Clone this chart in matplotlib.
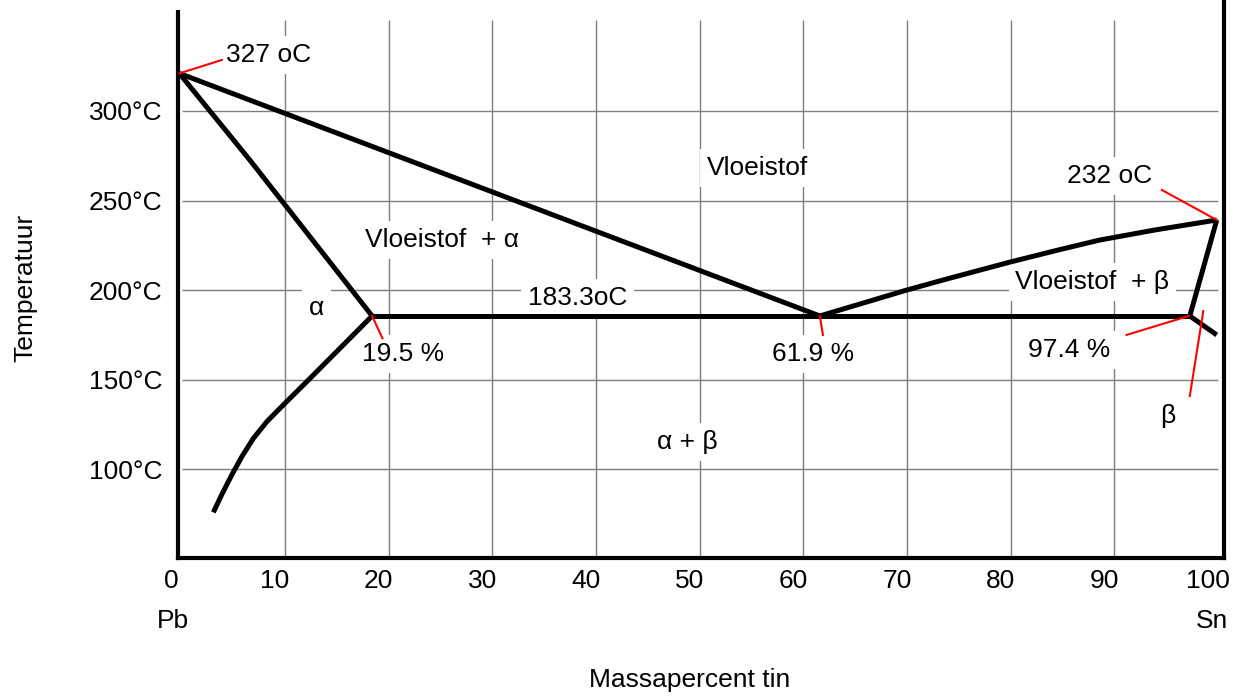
import matplotlib
matplotlib.use('Agg')
import matplotlib.pyplot as plt
import matplotlib.transforms as mtransforms

plt.rcParams['font.family'] = ['Liberation Sans', 'DejaVu Sans']

# --- gegevens (massapercent tin, temperatuur in °C) ---
x_ticks = [0, 10, 20, 30, 40, 50, 60, 70, 80, 90, 100]
y_ticks = [100, 150, 200, 250, 300]
y_labels = ['100°C', '150°C', '200°C', '250°C', '300°C']

# liquidus Pb-kant
liq_a_x = [-0.2, 61.6]
liq_a_t = [321.0, 185.5]
# solidus Pb-kant
sol_a_x = [-0.2, 6.6, 18.4]
sol_a_t = [321.0, 272.6, 185.5]
# solvus alpha
solv_a_x = [18.4, 12.25, 9.83, 8.23, 6.94, 5.82, 4.85, 3.95, 3.08]
solv_a_t = [185.5, 149.7, 135.8, 126.4, 117.1, 106.8, 96.6, 86.4, 75.8]
# eutectische lijn
eut_x = [18.4, 97.3]
eut_t = [185.5, 185.5]
# liquidus Sn-kant
liq_b_x = [61.6, 70.0, 74.2, 79.95, 84.5, 88.6, 94.0, 99.9]
liq_b_t = [185.5, 200.0, 206.7, 215.6, 222.2, 227.9, 233.6, 239.1]
# solidus + solvus beta
sol_b_x = [99.9, 97.3, 99.9]
sol_b_t = [239.1, 185.5, 174.9]

# rode aanwijslijnen: (x0, t0, x1, t1)
red_lines = [
    (-0.2, 321.0, 3.9, 328.5),
    (18.4, 185.5, 19.4, 173.0),
    (61.6, 185.5, 61.9, 174.9),
    (94.6, 255.9, 99.9, 239.1),
    (91.2, 174.9, 97.2, 185.5),
    (98.6, 188.2, 97.3, 140.8),
]

# labels: (x, t, tekst, uitlijning)
labels = [
    (4.3, 331.3, '327 oC', 'left'),
    (55.55, 268.2, 'Vloeistof', 'center'),
    (25.15, 227.9, 'Vloeistof  + α', 'center'),
    (13.0, 190.0, 'α', 'center'),
    (38.2, 195.5, '183.3oC', 'center'),
    (21.4, 164.2, '19.5 %', 'center'),
    (60.9, 164.2, '61.9 %', 'center'),
    (87.9, 204.5, 'Vloeistof  + β', 'center'),
    (89.6, 263.7, '232 oC', 'center'),
    (85.7, 166.5, '97.4 %', 'center'),
    (95.2, 129.6, 'β', 'center'),
    (48.8, 115.0, 'α + β', 'center'),
]

fs = 19

fig = plt.figure(figsize=(12.39, 6.96), dpi=100)
ax = fig.add_axes([178 / 1239, 138 / 696, (1224 - 178) / 1239, 558 / 696])
ax.set_xlim(-0.33, 100.6)
ax.set_ylim(50.3, 362.0)

# rasterlijnen
ax.vlines(x_ticks[1:-1], 50.3, 351.0, color='#7f7f7f', lw=1, zorder=1)
ax.hlines(y_ticks, 0.1, 100, color='#7f7f7f', lw=1, zorder=1)

# fasegrenzen
lw = 3.6
for xs, ts in [(liq_a_x, liq_a_t), (sol_a_x, sol_a_t), (solv_a_x, solv_a_t),
               (eut_x, eut_t), (liq_b_x, liq_b_t), (sol_b_x, sol_b_t)]:
    ax.plot(xs, ts, color='black', lw=lw, solid_capstyle='butt',
            solid_joinstyle='round', zorder=4)

for x0, t0, x1, t1 in red_lines:
    ax.plot([x0, x1], [t0, t1], color='red', lw=1.5, zorder=5)

for x, t, s, ha in labels:
    ax.text(x, t, s, ha=ha, va='center', fontsize=fs, zorder=3,
            bbox=dict(facecolor='white', edgecolor='none', pad=5))

# assen
ax.spines['top'].set_visible(False)
for side in ['left', 'right', 'bottom']:
    ax.spines[side].set_linewidth(3)
ax.spines['left'].set_bounds(50.3, 355.3)

ax.set_xticks(x_ticks)
ax.set_xticklabels([str(v) for v in x_ticks], fontsize=fs)
ax.set_yticks(y_ticks)
ax.set_yticklabels(y_labels, fontsize=fs)
ax.tick_params(axis='both', length=0)
ax.tick_params(axis='x', pad=8)
ax.tick_params(axis='y', pad=11)
shift = mtransforms.ScaledTranslation(-10 / 100, 0, fig.dpi_scale_trans)
for lab in ax.get_xticklabels():
    lab.set_transform(lab.get_transform() + shift)

ax.annotate('Pb', xy=(0, 0), xycoords=('data', 'axes fraction'),
            xytext=(-6, -45), textcoords='offset points',
            ha='center', va='center', fontsize=fs)
ax.annotate('Sn', xy=(100, 0), xycoords=('data', 'axes fraction'),
            xytext=(-4, -45), textcoords='offset points',
            ha='center', va='center', fontsize=fs)

fig.text(25 / 1239, 1 - 288 / 696, 'Temperatuur', rotation=90,
         ha='center', va='center', fontsize=fs)
fig.text(690 / 1239, 1 - 680 / 696, 'Massapercent tin',
         ha='center', va='center', fontsize=fs)

fig.savefig('out.png', dpi=100)
